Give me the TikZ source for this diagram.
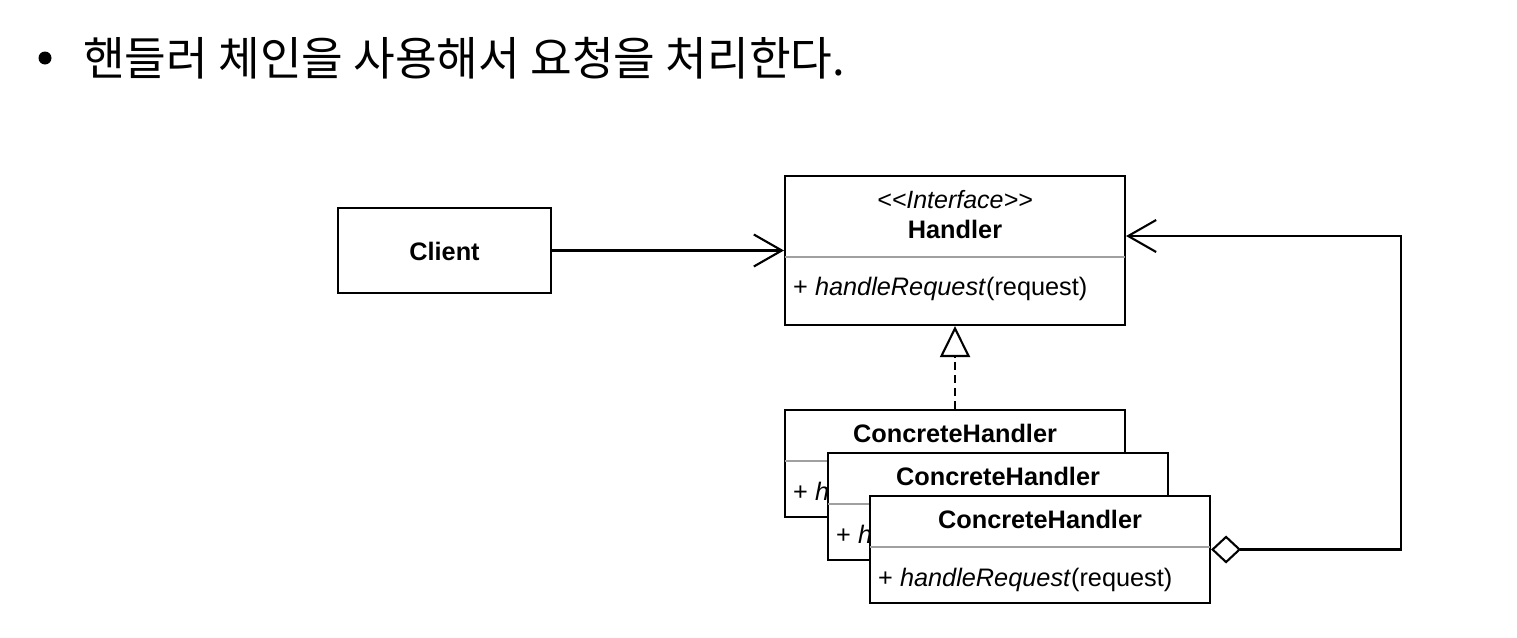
\documentclass[tikz,border=0pt]{standalone}
\usepackage{fontspec}
\setmainfont{Liberation Sans}
\newfontfamily\cjk[FakeStretch=0.985]{Noto Sans CJK KR}
\usetikzlibrary{arrows.meta}
\definecolor{sepgray}{HTML}{A0A0A0}
\begin{document}
\begin{tikzpicture}[x=1pt,y=-1pt,
  box/.style={draw=black, line width=2.1pt, fill=white, minimum width=340pt, minimum height=107pt, inner sep=0pt},
  sepline/.style={draw=sepgray, line width=1.6pt},
  lbl/.style={font=\fontsize{25.3}{30}\selectfont, inner sep=0pt},
  conn/.style={draw=black, line width=2.1pt},
  openarrow/.style={-{Straight Barb[length=28pt,width=32pt]}},
  realize/.style={dash pattern=on 8pt off 5pt, -{Triangle[open,length=31pt,width=30pt,fill=white]}},
  aggr/.style={{Diamond[open,length=30pt,width=28pt,fill=white]}-{Straight Barb[length=28pt,width=32pt]}}
]
\fill[white] (0,0) rectangle (1517,637);
\useasboundingbox (0,0) rectangle (1517,637);

% title
\node[circle, fill=black, inner sep=0pt, minimum size=13pt] (bullet) at (45,58) {};
\node[anchor=west, inner sep=0pt, font=\cjk\fontsize{46}{52}\selectfont] (title) at (83,58) {핸들러 체인을 사용해서 요청을 처리한다.};

% Client
\node[box, minimum width=213pt, minimum height=85pt] (client) at (444.5,250.5) {};
\node[lbl, anchor=base, font=\fontsize{25.3}{30}\selectfont\bfseries] (clientlbl) at (444.5,260) {Client};

% Handler
\node[box, minimum height=149pt] (handler) at (955,250.5) {};
\node[lbl, anchor=base, font=\fontsize{25}{30}\selectfont\itshape] (stereo) at (955,208) {<{}<Interface>{}>};
\node[lbl, anchor=base, font=\fontsize{25.3}{30}\selectfont\bfseries] (handlerlbl) at (955,238) {Handler};
\draw[sepline] ([xshift=1pt]handler.west |- 0,257) coordinate (hs1) -- ([xshift=-1pt]handler.east |- 0,257) coordinate (hs2);
\node[lbl, anchor=base west] (hmethod) at (793,295) {+ \textit{handleRequest}(request)};

% Concrete handlers
\newcommand\chbox[3]{%
  \node[box, minimum height=107pt] (#1) at (#2,#3+53.5) {};
  \node[lbl, anchor=base, font=\fontsize{25.3}{30}\selectfont\bfseries] (#1t) at (#2,#3+32) {ConcreteHandler};
  \draw[sepline] ([xshift=1pt]#1.west |- 0,#3+51) -- ([xshift=-1pt]#1.east |- 0,#3+51);
  \node[lbl, anchor=base west] (#1m) at (#2-162,#3+90) {+ \textit{handleRequest}(request)};
}
\chbox{cha}{955}{410}
\chbox{chb}{998}{453}
\chbox{chc}{1040}{496}

% connectors
\draw[conn, openarrow] (client.east) -- (handler.west |- client.east);
\draw[conn, realize] (cha.north) -- (handler.south);
\coordinate (corner) at (1401,236);
\draw[conn, aggr] (chc.east) -| (corner) -- (handler.east |- corner);
\end{tikzpicture}
\end{document}
